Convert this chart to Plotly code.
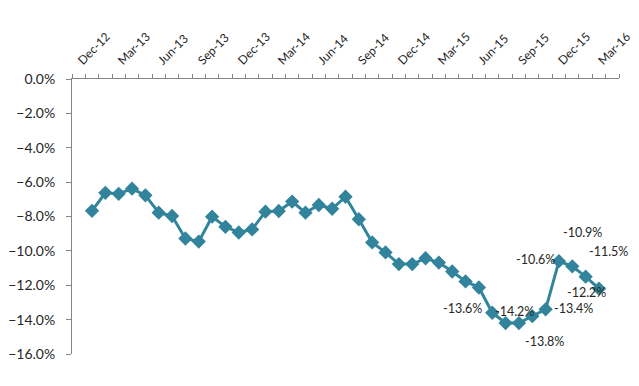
import plotly.graph_objects as go

# Month axis: Dec-12 ... Apr-16 (41 slots), labels every quarter
tick_labels = ["Dec-12", "Mar-13", "Jun-13", "Sep-13", "Dec-13", "Mar-14", "Jun-14",
               "Sep-14", "Dec-14", "Mar-15", "Jun-15", "Sep-15", "Dec-15", "Mar-16"]
tick_months = [0, 3, 6, 9, 12, 15, 18, 21, 24, 27, 30, 33, 36, 39]

# month index of each observation (Jan-13 ... Mar-16)
month_idx = list(range(1, 40))
values = [-7.67, -6.62, -6.68, -6.38, -6.77, -7.78, -7.97, -9.28, -9.46,
          -8.01, -8.60, -8.93, -8.75, -7.72, -7.68, -7.13, -7.78, -7.33,
          -7.55, -6.85, -8.16, -9.51, -10.09, -10.77, -10.77, -10.43, -10.68,
          -11.20, -11.78, -12.13, -13.6, -14.2, -14.2, -13.8, -13.4, -10.6,
          -10.9, -11.5, -12.2]
values = [v / 100 for v in values]

# labelled points (index into values) and label text
label_points = [30, 31, 33, 34, 35, 36, 37, 38]
label_text = ["-13.6%", "-14.2%", "-13.8%", "-13.4%", "-10.6%", "-10.9%", "-11.5%", "-12.2%"]
# pixel offsets of each label (styling)
label_dx = [-30, 9, 12, 28, -23, 10, 23, -12]
label_dy = [4, 12, -25, 1, 2, 34, 25, -4]

color = "#31849B"
font_fam = "Lato, 'Open Sans', sans-serif"
axis_col = "#868686"
txt_col = "#262626"

fig = go.Figure()
fig.add_trace(go.Scatter(
    x=month_idx, y=values, mode="lines+markers",
    line=dict(color=color, width=3),
    marker=dict(symbol="diamond", size=11, color=color),
    hoverinfo="skip", showlegend=False,
))

for i, t, dx, dy in zip(label_points, label_text, label_dx, label_dy):
    fig.add_annotation(x=month_idx[i], y=values[i], text=t, showarrow=False,
                       xshift=dx, yshift=dy,
                       font=dict(family=font_fam, size=12.5, color=txt_col))

# page body has an 8px default margin; size and margins compensate
fig.update_layout(
    width=631, height=362,
    margin=dict(l=64, r=20, t=71, b=16),
    paper_bgcolor="white", plot_bgcolor="white",
    xaxis=dict(
        side="top", range=[-0.5, 40.5], showgrid=False, zeroline=False,
        automargin=False,
        showline=True, linecolor=axis_col, linewidth=1,
        tickmode="array", tickvals=tick_months, ticktext=tick_labels,
        tickangle=-45, ticks="", ticklabelstandoff=6,
        tickfont=dict(family=font_fam, size=12, color=txt_col),
        minor=dict(ticks="outside", tick0=-0.5, dtick=1, ticklen=4,
                   tickcolor=axis_col, showgrid=False),
    ),
    yaxis=dict(
        range=[-0.16, 0], dtick=0.02, tickformat=".1%", showgrid=False,
        zeroline=False, showline=True, linecolor=axis_col, linewidth=1,
        automargin=False,
        ticks="outside", ticklen=5, tickcolor=axis_col, ticklabelstandoff=8,
        tickfont=dict(family=font_fam, size=14, color=txt_col),
    ),
)

fig.write_html("out.html")
